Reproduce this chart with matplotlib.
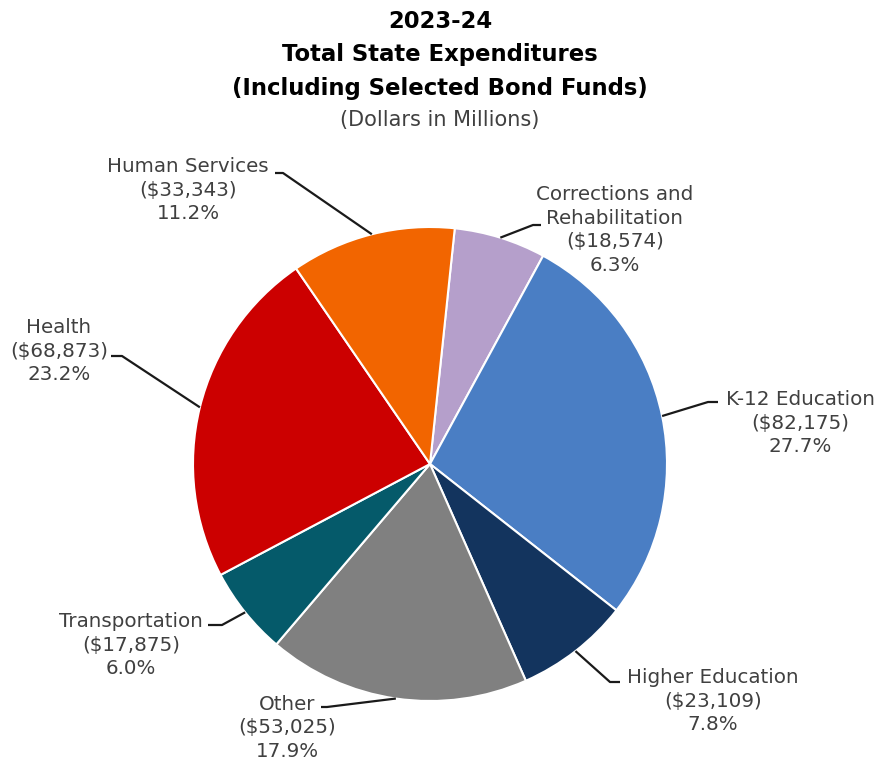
import numpy as np
import matplotlib.pyplot as plt

# data (dollars in millions), clockwise from the top
names = ['Corrections and\nRehabilitation', 'K-12 Education', 'Higher Education',
         'Other', 'Transportation', 'Health', 'Human Services']
amounts = [18574, 82175, 23109, 53025, 17875, 68873, 33343]
shares = [6.3, 27.7, 7.8, 17.9, 6.0, 23.2, 11.2]
colors = ['#B59FCB', '#4A7EC4', '#13345E', '#808080', '#055A6A', '#CC0000', '#F26500']

W, H = 881, 765
CX, CY, R = 430, 464, 237

# label block centre, leader elbow, leader end (pixels from top-left)
label_pos = [(615, 230), (800, 423), (713, 701), (287, 728), (131, 645), (59, 351), (188, 190)]
elbows = [(533, 225), (708, 402), (610, 682), (327, 707), (222, 625), (122, 356), (283, 173)]
ends = [(541, 225), (718, 402), (620, 682), (321, 707), (208, 625), (111, 356), (275, 173)]

plt.rcParams['font.family'] = ['DejaVu Sans']
TXT = '#404040'

fig = plt.figure(figsize=(W / 100, H / 100), dpi=100)
ax = fig.add_axes([0, 0, 1, 1])

wedges, _ = ax.pie(amounts, colors=colors, startangle=84, counterclock=False,
                   center=(CX, H - CY), radius=R,
                   wedgeprops=dict(edgecolor='white', linewidth=1.5))
ax.set_xlim(0, W)
ax.set_ylim(0, H)
ax.set_aspect('equal')
ax.axis('off')

for w, name, amt, pct, (lx, ly), (ex, ey), (nx, ny) in zip(
        wedges, names, amounts, shares, label_pos, elbows, ends):
    mid = np.deg2rad((w.theta1 + w.theta2) / 2)
    px = CX + R * np.cos(mid)
    py = (H - CY) + R * np.sin(mid)
    ax.plot([px, ex, nx], [py, H - ey, H - ny], color='#1a1a1a', lw=1.6,
            solid_capstyle='butt', zorder=3)
    ax.text(lx, H - ly, f'{name}\n(${amt:,})\n{pct:.1f}%', ha='center', va='center',
            fontsize=14.3, color=TXT, linespacing=1.3)

# title block
for y, line in [(22, '2023-24'), (55, 'Total State Expenditures'),
                (88, '(Including Selected Bond Funds)')]:
    fig.text(440 / W, 1 - y / H, line, ha='center', va='center',
             fontsize=16.4, fontweight='bold', color='black')
fig.text(440 / W, 1 - 120 / H, '(Dollars in Millions)', ha='center', va='center',
         fontsize=15, color=TXT)

fig.savefig('out.png', dpi=100)
